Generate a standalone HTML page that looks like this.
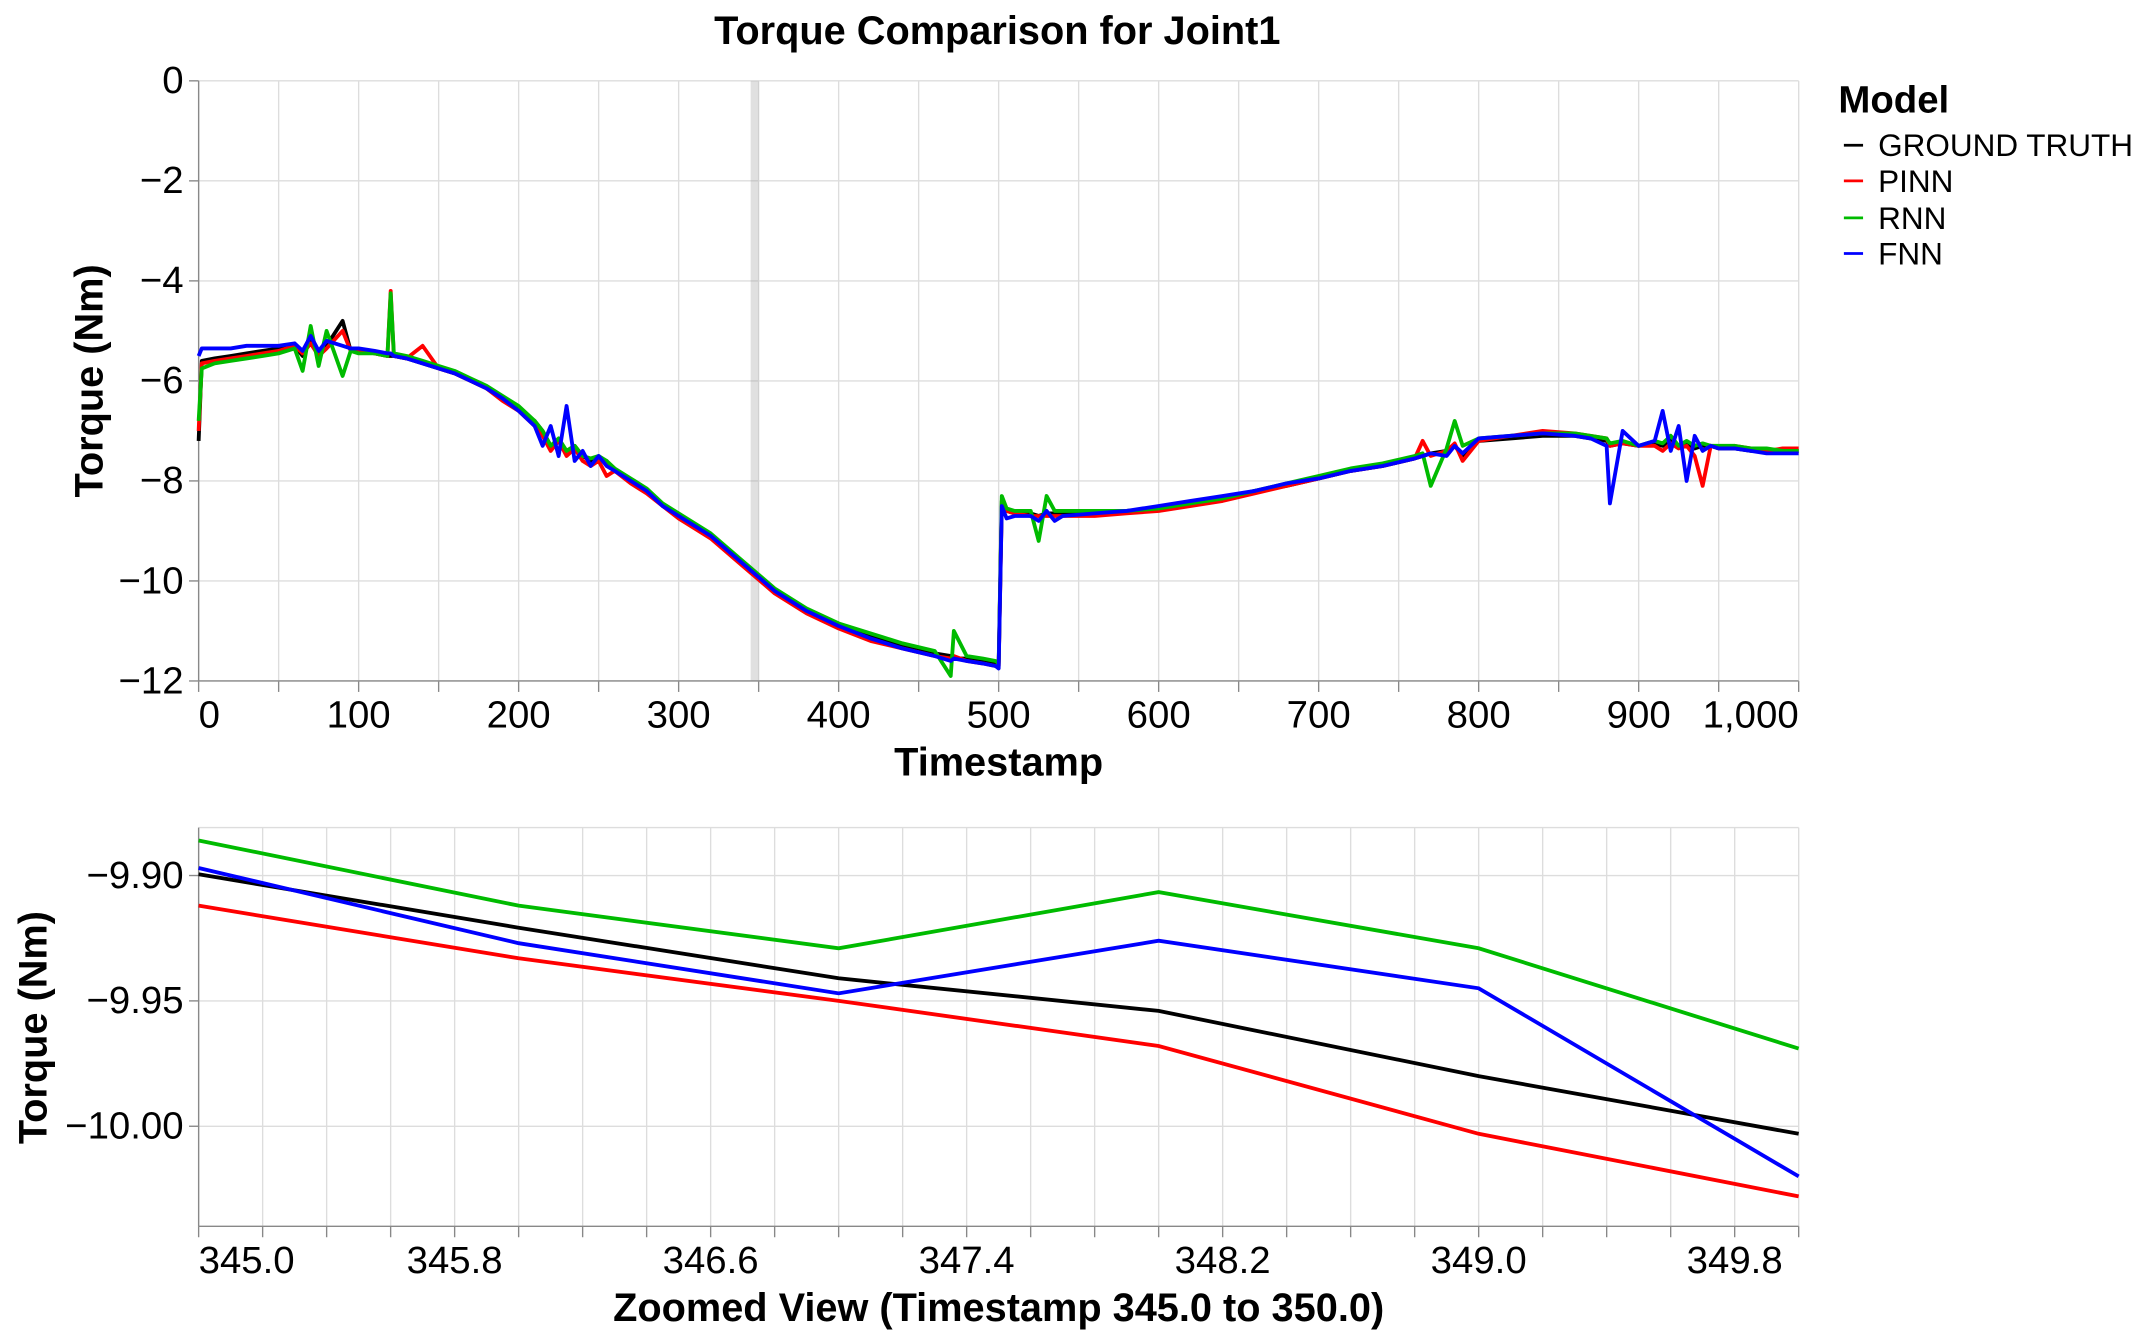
<!DOCTYPE html>
<html><head><meta charset="utf-8"><style>
html,body{margin:0;padding:0;background:#fff;}
svg{display:block;font-family:"Liberation Sans",sans-serif;}
</style></head><body>
<svg id="chart" width="2148" height="1340" viewBox="0 0 1568 978" preserveAspectRatio="none" xmlns="http://www.w3.org/2000/svg">
<text x="728" y="32" text-anchor="middle" font-size="29" font-weight="bold">Torque Comparison for Joint1</text>
<g id="topPlot"></g>
<g id="botPlot"></g>
<g>
<text x="1342" y="82" font-size="28" font-weight="bold">Model</text>
<g><line x1="1346" y1="106" x2="1360" y2="106" stroke="#000" stroke-width="2"/><text x="1371" y="114" font-size="23">GROUND TRUTH</text></g>
<g><line x1="1346" y1="132" x2="1360" y2="132" stroke="#f00" stroke-width="2"/><text x="1371" y="140" font-size="23">PINN</text></g>
<g><line x1="1346" y1="159" x2="1360" y2="159" stroke="#0b0" stroke-width="2"/><text x="1371" y="167" font-size="23">RNN</text></g>
<g><line x1="1346" y1="185" x2="1360" y2="185" stroke="#00f" stroke-width="2"/><text x="1371" y="193" font-size="23">FNN</text></g>
</g>
</svg>
<script>
const tTop=[0,2,10,20,30,40,50,60,65,70,75,80,90,95,100,110,118,120,122,130,140,150,160,170,180,190,200,210,215,220,225,230,235,240,245,250,255,260,270,280,290,300,320,340,360,380,400,420,440,460,470,472,480,490,498,500,502,505,510,520,525,530,535,540,560,580,600,620,640,660,680,700,720,740,760,765,770,780,785,790,800,820,840,860,870,880,882,890,900,910,915,920,925,930,935,940,945,950,960,970,980,990,1000];
const gtTop=[-7.2,-5.6,-5.55,-5.5,-5.45,-5.4,-5.35,-5.3,-5.5,-5.2,-5.5,-5.3,-4.8,-5.4,-5.4,-5.45,-5.5,-5.5,-5.5,-5.55,-5.65,-5.75,-5.85,-6.0,-6.15,-6.35,-6.55,-6.8,-7.0,-7.3,-7.2,-7.4,-7.3,-7.5,-7.6,-7.55,-7.6,-7.8,-8.0,-8.2,-8.5,-8.7,-9.1,-9.65,-10.2,-10.6,-10.9,-11.1,-11.3,-11.45,-11.5,-11.55,-11.55,-11.6,-11.65,-11.7,-8.4,-8.6,-8.65,-8.65,-8.7,-8.65,-8.65,-8.65,-8.65,-8.6,-8.55,-8.45,-8.35,-8.2,-8.1,-7.95,-7.8,-7.7,-7.55,-7.5,-7.45,-7.4,-7.3,-7.5,-7.2,-7.15,-7.1,-7.1,-7.15,-7.2,-7.3,-7.25,-7.3,-7.25,-7.3,-7.2,-7.3,-7.25,-7.35,-7.3,-7.3,-7.35,-7.35,-7.4,-7.4,-7.4,-7.4];
const pinnTop=[-7.0,-5.65,-5.6,-5.55,-5.5,-5.45,-5.4,-5.3,-5.45,-5.25,-5.5,-5.35,-5.0,-5.4,-5.4,-5.45,-5.5,-4.2,-5.5,-5.55,-5.3,-5.75,-5.85,-6.0,-6.15,-6.4,-6.6,-6.9,-7.1,-7.4,-7.2,-7.5,-7.35,-7.6,-7.7,-7.6,-7.9,-7.8,-8.05,-8.25,-8.5,-8.75,-9.15,-9.7,-10.25,-10.65,-10.95,-11.2,-11.35,-11.5,-11.55,-11.5,-11.6,-11.65,-11.7,-11.7,-8.5,-8.6,-8.65,-8.7,-8.7,-8.7,-8.7,-8.7,-8.7,-8.65,-8.6,-8.5,-8.4,-8.25,-8.1,-7.95,-7.8,-7.7,-7.55,-7.2,-7.5,-7.4,-7.25,-7.6,-7.2,-7.1,-7.0,-7.05,-7.1,-7.15,-7.3,-7.25,-7.3,-7.3,-7.4,-7.25,-7.35,-7.3,-7.5,-8.1,-7.3,-7.35,-7.3,-7.35,-7.4,-7.35,-7.35];
const rnnTop=[-6.8,-5.75,-5.65,-5.6,-5.55,-5.5,-5.45,-5.35,-5.8,-4.9,-5.7,-5.0,-5.9,-5.4,-5.45,-5.45,-5.5,-4.25,-5.45,-5.5,-5.6,-5.7,-5.8,-5.95,-6.1,-6.3,-6.5,-6.8,-7.0,-7.3,-7.15,-7.4,-7.3,-7.5,-7.55,-7.5,-7.6,-7.75,-7.95,-8.15,-8.45,-8.65,-9.05,-9.6,-10.15,-10.55,-10.85,-11.05,-11.25,-11.4,-11.9,-11.0,-11.5,-11.55,-11.6,-11.65,-8.3,-8.55,-8.6,-8.6,-9.2,-8.3,-8.6,-8.6,-8.6,-8.6,-8.55,-8.45,-8.35,-8.2,-8.05,-7.9,-7.75,-7.65,-7.5,-7.45,-8.1,-7.35,-6.8,-7.3,-7.15,-7.1,-7.05,-7.05,-7.1,-7.15,-7.25,-7.2,-7.3,-7.2,-7.25,-7.1,-7.3,-7.2,-7.3,-7.25,-7.3,-7.3,-7.3,-7.35,-7.35,-7.4,-7.4];
const fnnTop=[-5.5,-5.35,-5.35,-5.35,-5.3,-5.3,-5.3,-5.25,-5.4,-5.1,-5.4,-5.2,-5.3,-5.35,-5.35,-5.4,-5.45,-5.45,-5.5,-5.55,-5.65,-5.75,-5.85,-6.0,-6.15,-6.35,-6.6,-6.9,-7.3,-6.9,-7.5,-6.5,-7.6,-7.4,-7.7,-7.5,-7.7,-7.8,-8.0,-8.2,-8.5,-8.7,-9.1,-9.65,-10.2,-10.6,-10.9,-11.15,-11.35,-11.5,-11.6,-11.55,-11.6,-11.65,-11.7,-11.75,-8.5,-8.75,-8.7,-8.7,-8.8,-8.6,-8.8,-8.7,-8.65,-8.6,-8.5,-8.4,-8.3,-8.2,-8.05,-7.95,-7.8,-7.7,-7.55,-7.5,-7.45,-7.5,-7.3,-7.45,-7.15,-7.1,-7.05,-7.1,-7.15,-7.3,-8.45,-7.0,-7.3,-7.2,-6.6,-7.4,-6.9,-8.0,-7.1,-7.4,-7.3,-7.35,-7.35,-7.4,-7.45,-7.45,-7.45];
const xTicksTop=[0,100,200,300,400,500,600,700,800,900,1000];
const xTickLabelsTop=["0","100","200","300","400","500","600","700","800","900","1,000"];
const yTicksTop=[0,-2,-4,-6,-8,-10,-12];
const tBot=[345,346,347,348,349,350];
const gtBot=[-9.8995,-9.9208,-9.941,-9.954,-9.980,-10.003];
const pinnBot=[-9.912,-9.933,-9.950,-9.968,-10.003,-10.028];
const rnnBot=[-9.886,-9.912,-9.929,-9.9066,-9.929,-9.969];
const fnnBot=[-9.897,-9.927,-9.947,-9.926,-9.945,-10.020];
const xTickLabelsBot=["345.0","345.8","346.6","347.4","348.2","349.0","349.8"];
const yTicksBot=[-9.90,-9.95,-10.00];

const NS="http://www.w3.org/2000/svg";
function mk(p,tag,a){const e=document.createElementNS(NS,tag);for(const k in a)e.setAttribute(k,a[k]);p.appendChild(e);return e;}
const L=145,R=1313;
const FS=28;
const fmt=v=>(v<0?"\u2212":"")+Math.abs(v);

const gTop=document.getElementById('topPlot');
const xT=v=>L+(v-0)/1000*(R-L);
const yT=v=>59+(0-v)/12*(497-59);
for(let v=0;v<=1000;v+=50){const l=mk(gTop,'line',{x1:xT(v),x2:xT(v),y1:59,y2:497,stroke:'#ddd'});


const tk=mk(gTop,'line',{x1:xT(v),x2:xT(v),y1:497,y2:505,stroke:'#888'});

}
yTicksTop.forEach(v=>{const l=mk(gTop,'line',{x1:L,x2:R,y1:yT(v),y2:yT(v),stroke:'#ddd'});


mk(gTop,'line',{x1:L-7,x2:L,y1:yT(v),y2:yT(v),stroke:'#888'});
const t=mk(gTop,'text',{x:L-11,y:yT(v)+9,'text-anchor':'end','font-size':FS});t.textContent=fmt(v);

});
const band=mk(gTop,'rect',{x:xT(345),y:59,width:xT(350)-xT(345),height:438,fill:'#999','fill-opacity':0.3});


xTicksTop.forEach((v,i)=>{const anc=i==0?'start':(i==xTicksTop.length-1?'end':'middle');
const t=mk(gTop,'text',{x:xT(v),y:531,'text-anchor':anc,'font-size':FS});t.textContent=xTickLabelsTop[i];

});
mk(gTop,'line',{x1:L,x2:R,y1:497,y2:497,stroke:'#888'});
mk(gTop,'line',{x1:L,x2:L,y1:59,y2:497,stroke:'#888'});
const xt1=mk(gTop,'text',{x:729,y:566,'text-anchor':'middle','font-size':29,'font-weight':'bold'});xt1.textContent='Timestamp';


const yt1=mk(gTop,'text',{transform:'translate(75,278) rotate(-90)','text-anchor':'middle','font-size':29,'font-weight':'bold'});yt1.textContent='Torque (Nm)';


const seriesTop=[[gtTop,'#000','ground-truth'],[pinnTop,'#f00','pinn'],[rnnTop,'#0b0','rnn'],[fnnTop,'#00f','fnn']];
seriesTop.forEach(([d,c,n])=>{const p=mk(gTop,'path',{d:d.map((v,i)=>(i?'L':'M')+xT(tTop[i]).toFixed(1)+','+yT(v).toFixed(1)).join(''),fill:'none',stroke:c,'stroke-width':2.8,'stroke-linejoin':'round'});

});

const gBot=document.getElementById('botPlot');
const xB=v=>L+(v-345)/5*(R-L);
const yB=v=>639+(-9.90-v)/0.05*91.5;
for(let i=0;i<=25;i++){const v=345+i*0.2;const l=mk(gBot,'line',{x1:xB(v),x2:xB(v),y1:604,y2:895,stroke:'#ddd'});


mk(gBot,'line',{x1:xB(v),x2:xB(v),y1:895,y2:903,stroke:'#888'});}
mk(gBot,'line',{x1:L,x2:R,y1:604,y2:604,stroke:'#ddd'});
yTicksBot.forEach(v=>{const l=mk(gBot,'line',{x1:L,x2:R,y1:yB(v),y2:yB(v),stroke:'#ddd'});


mk(gBot,'line',{x1:L-7,x2:L,y1:yB(v),y2:yB(v),stroke:'#888'});
const t=mk(gBot,'text',{x:L-11,y:yB(v)+9,'text-anchor':'end','font-size':FS});t.textContent=(v<0?'\u2212':'')+Math.abs(v).toFixed(2);

});
xTickLabelsBot.forEach((s,i)=>{const v=parseFloat(s);const t=mk(gBot,'text',{x:xB(v),y:929,'text-anchor':i==0?'start':'middle','font-size':FS});t.textContent=s;

});
mk(gBot,'line',{x1:L,x2:R,y1:895,y2:895,stroke:'#888'});
mk(gBot,'line',{x1:L,x2:L,y1:604,y2:895,stroke:'#888'});
const xt2=mk(gBot,'text',{x:729,y:964,'text-anchor':'middle','font-size':29,'font-weight':'bold'});xt2.textContent='Zoomed View (Timestamp 345.0 to 350.0)';


const yt2=mk(gBot,'text',{transform:'translate(34,750) rotate(-90)','text-anchor':'middle','font-size':29,'font-weight':'bold'});yt2.textContent='Torque (Nm)';


const seriesBot=[[gtBot,'#000','ground-truth'],[pinnBot,'#f00','pinn'],[rnnBot,'#0b0','rnn'],[fnnBot,'#00f','fnn']];
seriesBot.forEach(([d,c,n])=>{const p=mk(gBot,'path',{d:d.map((v,i)=>(i?'L':'M')+xB(tBot[i]).toFixed(1)+','+yB(v).toFixed(1)).join(''),fill:'none',stroke:c,'stroke-width':2.8});

});
</script>
</body></html>
